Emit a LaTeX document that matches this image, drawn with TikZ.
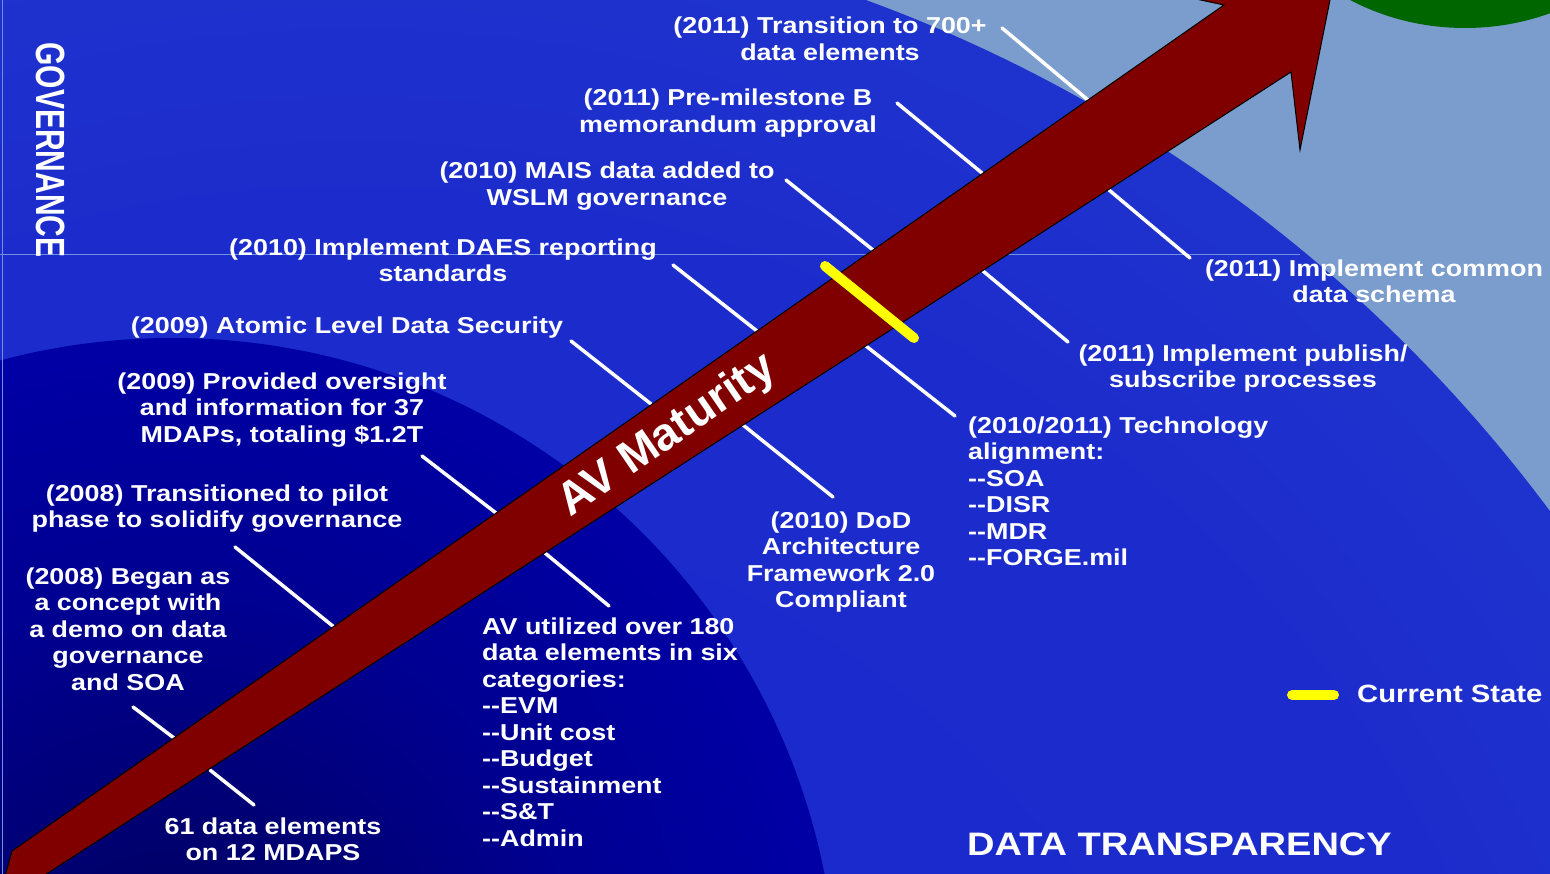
\documentclass[tikz,border=0pt]{standalone}
\usepackage{fontspec}
\usepackage{graphicx}
\setmainfont{Liberation Sans}[FakeStretch=1.17]
\newfontfamily\plainsans{Liberation Sans}

% palette
\definecolor{skylight}{HTML}{7B9DCD}
\definecolor{diskA}{HTML}{1A26CC}
\definecolor{diskB}{HTML}{1C2CCC}
\definecolor{diskC}{HTML}{223CD0}
\definecolor{diskD}{HTML}{284CCC}
\definecolor{diskE}{HTML}{3468CC}
\definecolor{deepA}{HTML}{000058}
\definecolor{deepB}{HTML}{000090}
\definecolor{deepC}{HTML}{0000B0}
\definecolor{deepD}{HTML}{0000C4}
\definecolor{leafgreen}{HTML}{006600}
\definecolor{arrowred}{HTML}{800000}
\definecolor{axisblue}{HTML}{7090E0}
\definecolor{markyellow}{HTML}{FFFF00}

% radial fills: 50bp is the rim of the shaded circle
\pgfdeclareradialshading{outerdisk}{\pgfpoint{0bp}{0bp}}{color(0bp)=(diskA); color(20bp)=(diskB); color(32bp)=(diskC); color(40bp)=(diskD); color(50bp)=(diskE)}
\pgfdeclareradialshading{innerdisk}{\pgfpoint{0bp}{0bp}}{color(0bp)=(deepA); color(15bp)=(deepB); color(30bp)=(deepC); color(50bp)=(deepD)}

\tikzset{
  mtext/.style={text=white, inner sep=0pt, align=center,
    font=\fontsize{23}{26.5}\selectfont\bfseries, execute at begin node=\strut},
  mleft/.style={mtext, align=left},
  lead/.style={white, line width=3.5pt, line cap=round},
  axisline/.style={axisblue, line width=1pt},
  marker/.style={markyellow, line width=10pt, line cap=round},
}

\begin{document}
\begin{tikzpicture}[x=1pt, y=-1pt]
\useasboundingbox (0,0) rectangle (1550,874);

\begin{scope}
  \clip (0,0) rectangle (1550,874);
  % backdrop: pale field, large blue disk, dark inner disk, green corner
  \fill[skylight] (0,0) rectangle (1550,874);
  \shade[shading=outerdisk] (355,1398) circle (1488);
  \shade[shading=innerdisk] (172,1003) circle (665);
  \fill[leafgreen] (1465,-170) ellipse (224 and 198);

  % axes
  \draw[axisline] (2,0) -- (2,874);
  \draw[axisline] (0,255) -- (1300,255);

  % leader lines
  \coordinate (a1) at (1002,28);  \coordinate (a2) at (1088,100);
  \coordinate (b1) at (897,103);  \coordinate (b2) at (982,173);
  \coordinate (c1) at (1190,258); \coordinate (c2) at (1109,190);
  \coordinate (d1) at (786,180);  \coordinate (d2) at (873,250);
  \coordinate (e1) at (1068,342); \coordinate (e2) at (983,271);
  \coordinate (f1) at (673,265);  \coordinate (f2) at (757,331);
  \coordinate (g1) at (955,416);  \coordinate (g2) at (866,346);
  \coordinate (h1) at (571,341);  \coordinate (h2) at (651,404);
  \coordinate (i1) at (833,497);  \coordinate (i2) at (743,425);
  \coordinate (j1) at (422,456);  \coordinate (j2) at (496,513);
  \coordinate (k1) at (609,606);  \coordinate (k2) at (545,553);
  \coordinate (l1) at (235,547);  \coordinate (l2) at (334,627);
  \coordinate (m1) at (133,707);  \coordinate (m2) at (174,738);
  \coordinate (n1) at (254,805);  \coordinate (n2) at (210,770);
  \foreach \p in {a,b,c,d,e,f,g,h,i,j,k,l,m,n}
    \draw[lead] (\p1) -- (\p2);

  % maturity arrow
  \fill[arrowred, draw=black, line width=1pt, line join=miter]
    (4,880) -- (12,851) -- (1224,5) -- (1196,-1) -- (1196,-30)
    -- (1336,-30) -- (1330,0) -- (1300,150) -- (1291,72) -- (37,880) -- cycle;
\end{scope}

% current state marker and legend
\draw[marker] (825,266) -- (914,338);
\coordinate (lg1) at (1292,695);
\coordinate (lg2) at (1334,695);
\draw[marker] (lg1) -- (lg2);

% arrow caption
\node[rotate=34.5, text=white, inner sep=0pt,
      font=\plainsans\bfseries\fontsize{46}{46}\selectfont] (avm) at (668,436) {AV Maturity};

% axis captions
\node[rotate=-90, text=white, inner sep=0pt,
      font=\plainsans\bfseries\fontsize{30}{30}\selectfont] (gov) at (51,150)
      {\scalebox{1}[1.36]{GOVERNANCE}};
\node[anchor=base west, text=white, inner sep=0pt,
      font=\fontsize{32.5}{32.5}\selectfont\bfseries] (transp) at (967,855) {DATA TRANSPARENCY};
\node[anchor=base west, text=white, inner sep=0pt,
      font=\fontsize{25}{25}\selectfont\bfseries] (curstate) at (1357,702) {Current State};

% milestones above the arrow
\node[mtext, anchor=north] (t700) at (830,17) {(2011) Transition to 700+\\data elements};
\node[mtext, anchor=north] (tpreb) at (728,89) {(2011) Pre-milestone B\\memorandum approval};
\node[mtext, anchor=north] (tmais) at (607,162) {(2010) MAIS data added to\\WSLM governance};
\node[mtext, anchor=north] (tdaes) at (443,238.5) {(2010) Implement DAES reporting\\standards};
\node[mtext, anchor=north] (tatomic) at (347,314.5) {(2009) Atomic Level Data Security};
\node[mtext, anchor=north] (tover) at (282,372.5) {(2009) Provided oversight\\and information for 37\\MDAPs, totaling \$1.2T};
\node[mtext, anchor=north] (tpilot) at (217,484.5) {(2008) Transitioned to pilot\\phase to solidify governance};
\node[mtext, anchor=north] (tbegan) at (128,567.5) {(2008) Began as\\a concept with\\a demo on data\\governance\\and SOA};

% milestones below the arrow
\node[mtext, anchor=north] (t61) at (273,817.5) {61 data elements\\on 12 MDAPS};
\node[mleft, anchor=north west] (t180) at (482,617.5) {AV utilized over 180\\data elements in six\\categories:\\-{}-EVM\\-{}-Unit cost\\-{}-Budget\\-{}-Sustainment\\-{}-S\&T\\-{}-Admin};
\node[mtext, anchor=north] (tdod) at (841,511.5) {(2010) DoD\\Architecture\\Framework 2.0\\Compliant};
\node[mleft, anchor=north west] (ttech) at (968,416.5) {(2010/2011) Technology\\alignment:\\-{}-SOA\\-{}-DISR\\-{}-MDR\\-{}-FORGE.mil};
\node[mtext, anchor=north] (tpub) at (1243,344.5) {(2011) Implement publish/\\subscribe processes};
\node[mtext, anchor=north] (tschema) at (1374,259.5) {(2011) Implement common\\data schema};
\end{tikzpicture}
\end{document}
